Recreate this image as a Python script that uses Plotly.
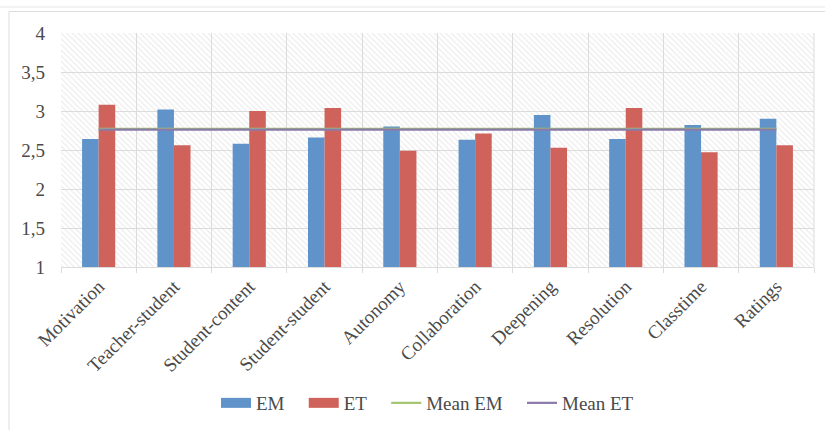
import plotly.graph_objects as go

categories = ["Motivation", "Teacher-student", "Student-content", "Student-student",
              "Autonomy", "Collaboration", "Deepening", "Resolution", "Classtime", "Ratings"]
em_values = [2.64, 3.02, 2.58, 2.66, 2.80, 2.63, 2.95, 2.64, 2.82, 2.90]
et_values = [3.08, 2.56, 3.00, 3.04, 2.49, 2.71, 2.53, 3.04, 2.47, 2.56]
mean_em = [2.77] * len(categories)
mean_et = [2.76] * len(categories)
y_ticks = [1, 1.5, 2, 2.5, 3, 3.5, 4]
legend_names = ["EM", "ET", "Mean EM", "Mean ET"]

BLUE = "#5f93c9"
RED = "#cf625b"
GREEN = "#a3c46e"
PURPLE = "#8a7aab"
GRID = "#dcdcdc"
TEXT = "#4a4a4a"
FONT = "Liberation Serif"
PAD = "\u00a0\u00a0\u00a0"

W, H = 825, 430
L, R, T, B = 61, 11, 33, 163
pw, ph = W - L - R, H - T - B


def px_x(p):
    return (p - L) / pw


def px_y(p):
    return (H - B - p) / ph


xs = list(range(len(categories)))
n = len(categories)

fig = go.Figure()

# hatched plot background
fig.add_trace(go.Bar(
    x=[(n - 1) / 2], y=[y_ticks[-1] - y_ticks[0]], base=[y_ticks[0]], width=[n],
    marker=dict(color="rgba(0,0,0,0)", line=dict(width=0),
                pattern=dict(shape="\\", fgcolor="#dadada", bgcolor="rgba(255,255,255,0)",
                             size=4, solidity=0.3)),
    showlegend=False, hoverinfo="skip"))

fig.add_trace(go.Bar(x=xs, y=em_values, width=0.22, offset=-0.22, name=legend_names[0],
                     marker=dict(color=BLUE, line=dict(width=0)), showlegend=False))
fig.add_trace(go.Bar(x=xs, y=et_values, width=0.22, offset=0, name=legend_names[1],
                     marker=dict(color=RED, line=dict(width=0)), showlegend=False))

# legend entries for bars drawn as wide rectangles
fig.add_trace(go.Scatter(name=legend_names[0] + PAD, x=[None], y=[None], mode="lines",
                         line=dict(color=BLUE, width=10)))
fig.add_trace(go.Scatter(name=legend_names[1] + PAD, x=[None], y=[None], mode="lines",
                         line=dict(color=RED, width=10)))

fig.add_trace(go.Scatter(name=legend_names[2] + PAD, x=xs, y=mean_em, mode="lines",
                         line=dict(color=GREEN, width=2.2)))
fig.add_trace(go.Scatter(name=legend_names[3], x=xs, y=mean_et, mode="lines",
                         line=dict(color=PURPLE, width=2.2)))

fig.update_layout(
    width=W, height=H,
    margin=dict(l=L, r=R, t=T, b=B, autoexpand=False),
    paper_bgcolor="white", plot_bgcolor="white",
    barmode="overlay",
    separators=",.",
    font=dict(family=FONT, size=19, color=TEXT),
    showlegend=True,
    legend=dict(orientation="h", x=px_x(216), xanchor="left", y=px_y(403), yanchor="middle",
                font=dict(family=FONT, size=19, color=TEXT),
                traceorder="normal", bgcolor="rgba(0,0,0,0)"),
    xaxis=dict(range=[-0.5, n - 0.5], tickmode="array", tickvals=xs, ticktext=categories,
               tickangle=-45, showgrid=False, ticks="", zeroline=False,
               showline=True, linecolor=GRID, linewidth=1,
               tickfont=dict(family=FONT, size=19, color=TEXT),
               minor=dict(tickmode="array", tickvals=[i - 0.5 for i in range(n + 1)],
                          showgrid=True, gridcolor=GRID, gridwidth=1,
                          ticks="outside", ticklen=5, tickcolor=GRID)),
    yaxis=dict(range=[y_ticks[0], y_ticks[-1]], tickmode="array", tickvals=y_ticks,
               showgrid=True, gridcolor=GRID, gridwidth=1, zeroline=False,
               showline=False, ticks="", ticklabelstandoff=15,
               tickfont=dict(family=FONT, size=19, color=TEXT)),
    shapes=[
        dict(type="line", xref="paper", yref="paper", x0=px_x(0), x1=px_x(W),
             y0=px_y(7), y1=px_y(7), line=dict(color="#e6e6e6", width=1), layer="below"),
        dict(type="line", xref="paper", yref="paper", x0=px_x(9), x1=px_x(W),
             y0=px_y(11.5), y1=px_y(11.5), line=dict(color="#dddddd", width=1), layer="below"),
        dict(type="line", xref="paper", yref="paper", x0=px_x(9), x1=px_x(9),
             y0=px_y(11.5), y1=px_y(H), line=dict(color="#dddddd", width=1), layer="below"),
        dict(type="line", xref="paper", yref="paper", x0=1, x1=1,
             y0=0, y1=1, line=dict(color=GRID, width=1), layer="below"),
    ],
)

fig.write_html("out.html", config={"displayModeBar": False},
               post_script="document.body.style.margin='0';document.body.style.overflow='hidden';")
